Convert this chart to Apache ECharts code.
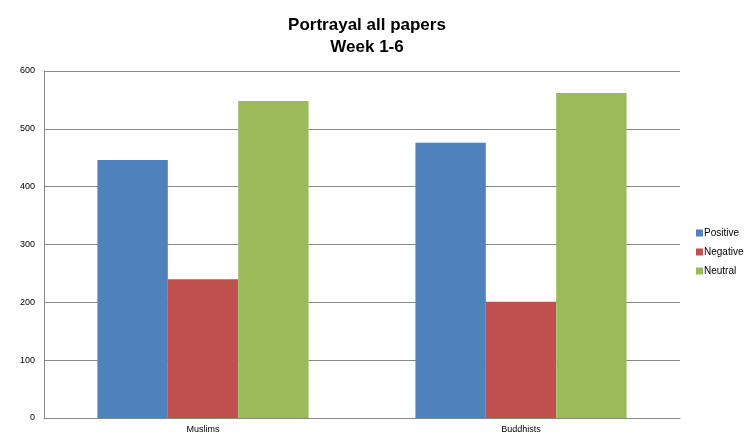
<!DOCTYPE html>
<html>
<head>
<meta charset="utf-8">
<script src="https://cdn.jsdelivr.net/npm/echarts@6/dist/echarts.min.js"></script>
<style>
  html, body { margin: 0; padding: 0; background: #fff; }
  #chart { width: 749px; height: 439px; }
</style>
</head>
<body>
<div id="chart"></div>
<script>
const categories = ['Muslims', 'Buddhists']
const positive = [446, 476]
const negative = [240, 201]
const neutral = [548, 562]
const seriesNames = ['Positive', 'Negative', 'Neutral']
const colors = ['#4F81BD', '#C0504D', '#9BBB59']

const chart = echarts.init(document.getElementById('chart'))

chart.setOption({
  animation: false,
  color: colors,
  title: {
    text: 'Portrayal all papers\nWeek 1-6',
    left: 362,
    textAlign: 'center',
    top: 9,
    textStyle: { fontFamily: 'Liberation Sans', fontSize: 17, fontWeight: 'bold', color: '#000', lineHeight: 22 }
  },
  legend: {
    orient: 'vertical',
    left: 691,
    top: 223,
    itemWidth: 7,
    itemHeight: 7,
    itemGap: 9,
    icon: 'rect',
    textStyle: { fontFamily: 'Liberation Sans', fontSize: 10, color: '#000', padding: [0, 0, 0, -4] },
    data: seriesNames
  },
  grid: { left: 44, right: 69, top: 71, bottom: 21 },
  xAxis: {
    type: 'category',
    data: categories,
    axisLine: { lineStyle: { color: '#888', width: 1 } },
    axisTick: { show: false },
    axisLabel: { fontFamily: 'Liberation Sans', fontSize: 9, color: '#000', margin: 7 }
  },
  yAxis: {
    type: 'value',
    min: 0,
    max: 600,
    interval: 100,
    axisLine: { show: true, lineStyle: { color: '#888', width: 1 } },
    axisTick: { show: false },
    splitLine: { lineStyle: { color: '#888', width: 1 } },
    axisLabel: { fontFamily: 'Liberation Sans', fontSize: 9, color: '#000', margin: 9 }
  },
  series: [
    { name: seriesNames[0], type: 'bar', data: positive, barGap: 0, barCategoryGap: '33.6%' },
    { name: seriesNames[1], type: 'bar', data: negative, barGap: 0, barCategoryGap: '33.6%' },
    { name: seriesNames[2], type: 'bar', data: neutral, barGap: 0, barCategoryGap: '33.6%' }
  ]
})
</script>
</body>
</html>
